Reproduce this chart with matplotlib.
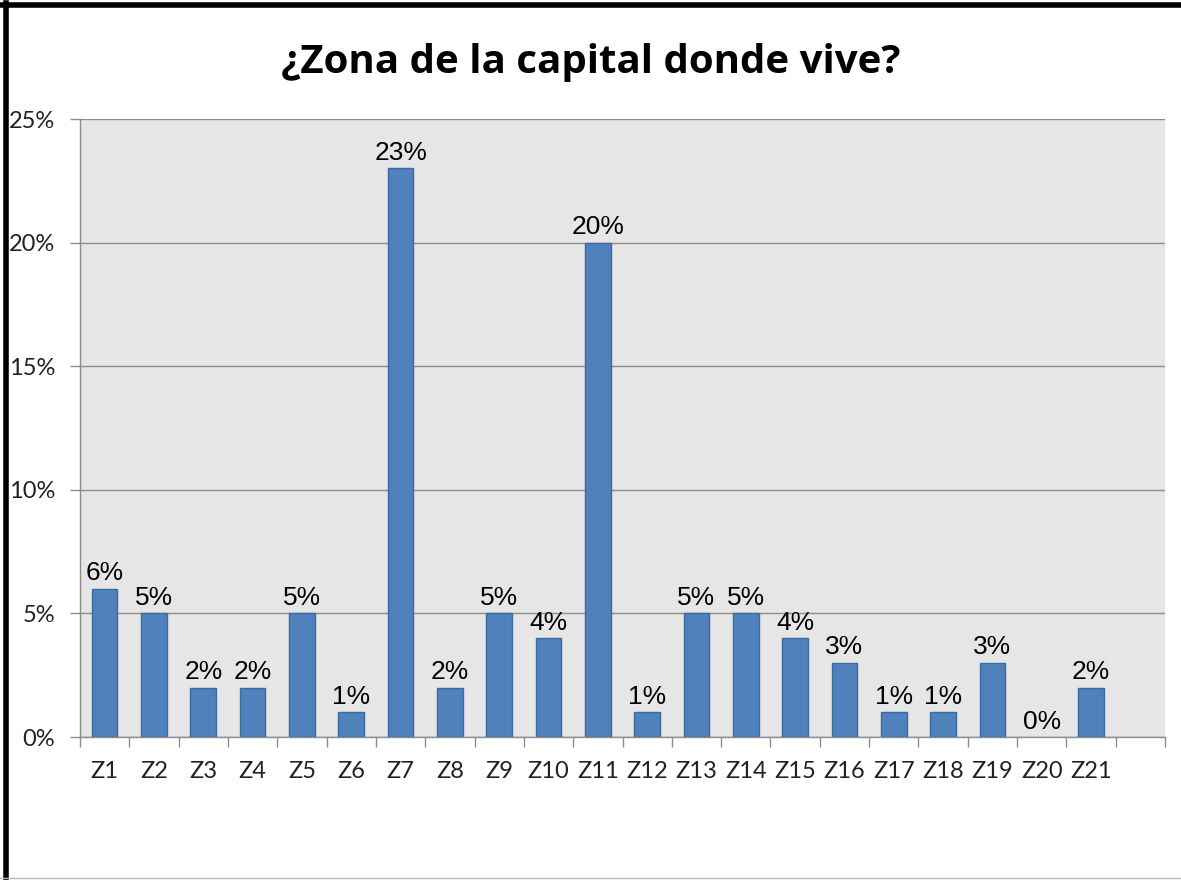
import matplotlib.pyplot as plt
from matplotlib.lines import Line2D

zonas = ["Z1", "Z2", "Z3", "Z4", "Z5", "Z6", "Z7", "Z8", "Z9", "Z10", "Z11",
         "Z12", "Z13", "Z14", "Z15", "Z16", "Z17", "Z18", "Z19", "Z20", "Z21"]
porcentajes = [6, 5, 2, 2, 5, 1, 23, 2, 5, 4, 20, 1, 5, 5, 4, 3, 1, 1, 3, 0, 2]
y_ticks = [0, 5, 10, 15, 20, 25]
n_slots = 22  # Excel leaves one empty slot at the end

fig = plt.figure(figsize=(11.81, 8.80), dpi=100)
ax = fig.add_axes([80 / 1181, 1 - 737 / 880, 1085 / 1181, 618 / 880])
ax.set_facecolor("#e6e6e6")

x = list(range(len(zonas)))
bars = ax.bar(x, porcentajes, width=0.52, color="#4f81bd", edgecolor="#3b6a9e",
              linewidth=1, zorder=3)
for b, v in zip(bars, porcentajes):
    if v == 0:
        b.set_linewidth(0)

for xi, v in zip(x, porcentajes):
    ax.annotate(f"{v}%", (xi, v), xytext=(0, 2.5), textcoords="offset points",
                ha="center", va="bottom", fontsize=19, family="Liberation Sans",
                color="black", zorder=4)

ax.set_xlim(-0.5, n_slots - 0.5)
ax.set_ylim(0, 25)
ax.set_yticks(y_ticks)
ax.set_yticklabels([f"{t}%" for t in y_ticks], fontsize=17, family="Lato",
                   color="#222222")
ax.yaxis.grid(True, color="#8c8c8c", linewidth=1, zorder=1)

# boundary ticks between categories, labels at the centers
ax.set_xticks([i - 0.5 for i in range(n_slots + 1)])
ax.set_xticklabels([])
ax.set_xticks(x, minor=True)
ax.set_xticklabels(zonas, minor=True, fontsize=17, family="Lato",
                   color="#222222")
ax.tick_params(axis="x", which="major", length=7, color="#8c8c8c", width=1)
ax.tick_params(axis="x", which="minor", length=0, pad=17)
ax.tick_params(axis="y", length=7, color="#8c8c8c", width=1, pad=11)

for s in ["top", "right"]:
    ax.spines[s].set_visible(False)
for s in ["left", "bottom"]:
    ax.spines[s].set_color("#8c8c8c")
    ax.spines[s].set_linewidth(1)

fig.text(0.5, 1 - 62 / 880, "¿Zona de la capital donde vive?", ha="center",
         va="center", fontsize=29, fontweight="bold", family="Open Sans")

# outer frame: thick black top and left, thin gray bottom
fig.add_artist(Line2D([0, 1], [1 - 5 / 880] * 2, color="black", linewidth=4,
                      transform=fig.transFigure))
fig.add_artist(Line2D([6 / 1181] * 2, [0, 1 - 3 / 880], color="black",
                      linewidth=4, transform=fig.transFigure))
fig.add_artist(Line2D([0, 1], [2 / 880] * 2, color="#bbbbbb", linewidth=1,
                      transform=fig.transFigure))

fig.savefig("out.png", dpi=100)
